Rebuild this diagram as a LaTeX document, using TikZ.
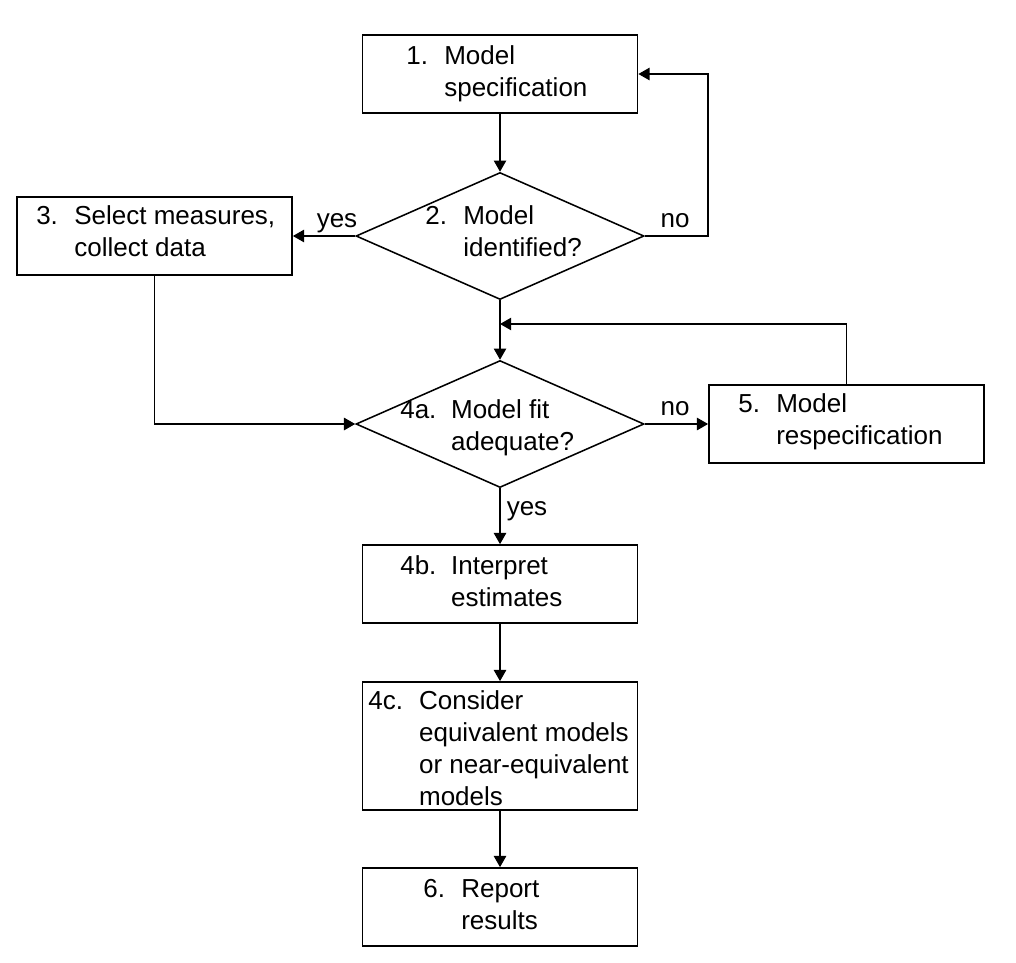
\documentclass[tikz,border=0pt]{standalone}
\usepackage{fontspec}
\setmainfont{Liberation Sans}
\usetikzlibrary{shapes.geometric,arrows.meta}

% step numbers set in a fixed-width column so the text hangs
\newcommand{\shortno}[1]{\makebox[0.95cm][l]{#1}}
\newcommand{\longno}[1]{\makebox[1.27cm][l]{#1}}

\tikzset{
  stepbox/.style={draw, rectangle, line width=1.2pt, minimum width=6.875cm,
    minimum height=1.95cm, inner sep=0pt},
  decision/.style={draw, diamond, line width=1.1pt, minimum width=7.2cm,
    minimum height=3.175cm, inner sep=0pt},
  steptext/.style={anchor=west, inner sep=0pt, align=left},
  flow/.style={line width=1pt, -{Triangle[length=0.28cm, width=0.31cm]}},
  answer/.style={anchor=base, inner sep=0pt}
}

\begin{document}
\begin{tikzpicture}[x=0.025cm, y=-0.025cm,
  every node/.style={font=\fontsize{18.5}{22.6}\selectfont}]
\useasboundingbox (0,0) rectangle (1016,962);

% boxes and decisions
\node[stepbox] (b1) at (500,74) {};
\node[decision] (d2) at (500,236) {};
\node[stepbox] (b3) at (154.5,236) {};
\node[decision] (d4) at (500,424) {};
\node[stepbox] (b5) at (846.5,424) {};
\node[stepbox] (b4b) at (500,584) {};
\node[stepbox, minimum height=3.2cm] (b4c) at (500,746) {};
\node[stepbox] (b6) at (500,907) {};

% texts
\node[steptext] (t1) at (406,74) {\begin{tabular}{@{}l@{}l@{}}\shortno{1.} & Model\\ & specification\end{tabular}};
\node[steptext] (t2) at (425,234) {\begin{tabular}{@{}l@{}l@{}}\shortno{2.} & Model\\ & identified?\end{tabular}};
\node[steptext] (t3) at (36,234) {\begin{tabular}{@{}l@{}l@{}}\shortno{3.} & Select measures,\\ & collect data\end{tabular}};
\node[steptext] (t4a) at (400,428) {\begin{tabular}{@{}l@{}l@{}}\longno{4a.} & Model fit\\ & adequate?\end{tabular}};
\node[steptext] (t5) at (738,422) {\begin{tabular}{@{}l@{}l@{}}\shortno{5.} & Model\\ & respecification\end{tabular}};
\node[steptext] (t4b) at (400,584) {\begin{tabular}{@{}l@{}l@{}}\longno{4b.} & Interpret\\ & estimates\end{tabular}};
\node[steptext] (t4c) at (368,751) {\begin{tabular}{@{}l@{}l@{}}\longno{4c.} & Consider\\ & equivalent models\\ & or near-equivalent\\ & models\end{tabular}};
\node[steptext] (t6) at (423,907) {\begin{tabular}{@{}l@{}l@{}}\shortno{6.} & Report\\ & results\end{tabular}};

% answer labels
\node[answer] (yes1) at (337,227) {yes};
\node[answer] (no1) at (675,227) {no};
\node[answer] (no2) at (675,415) {no};
\node[answer] (yes2) at (527,515) {yes};

% connectors
\coordinate (loop1) at (708,74);
\coordinate (join) at (500,324);

\draw[flow] (b1.south) -- (d2.north);
\draw[flow] (d2.east) -| (loop1) -- (b1.east);
\draw[flow] (d2.west) -- (b3.east);
\draw[flow] (b3.south) |- (d4.west);
\draw[flow] (d2.south) -- (d4.north);
\draw[flow] (b5.north) |- (join);
\draw[flow] (d4.east) -- (b5.west);
\draw[flow] (d4.south) -- (b4b.north);
\draw[flow] (b4b.south) -- (b4c.north);
\draw[flow] (b4c.south) -- (b6.north);
\end{tikzpicture}
\end{document}
